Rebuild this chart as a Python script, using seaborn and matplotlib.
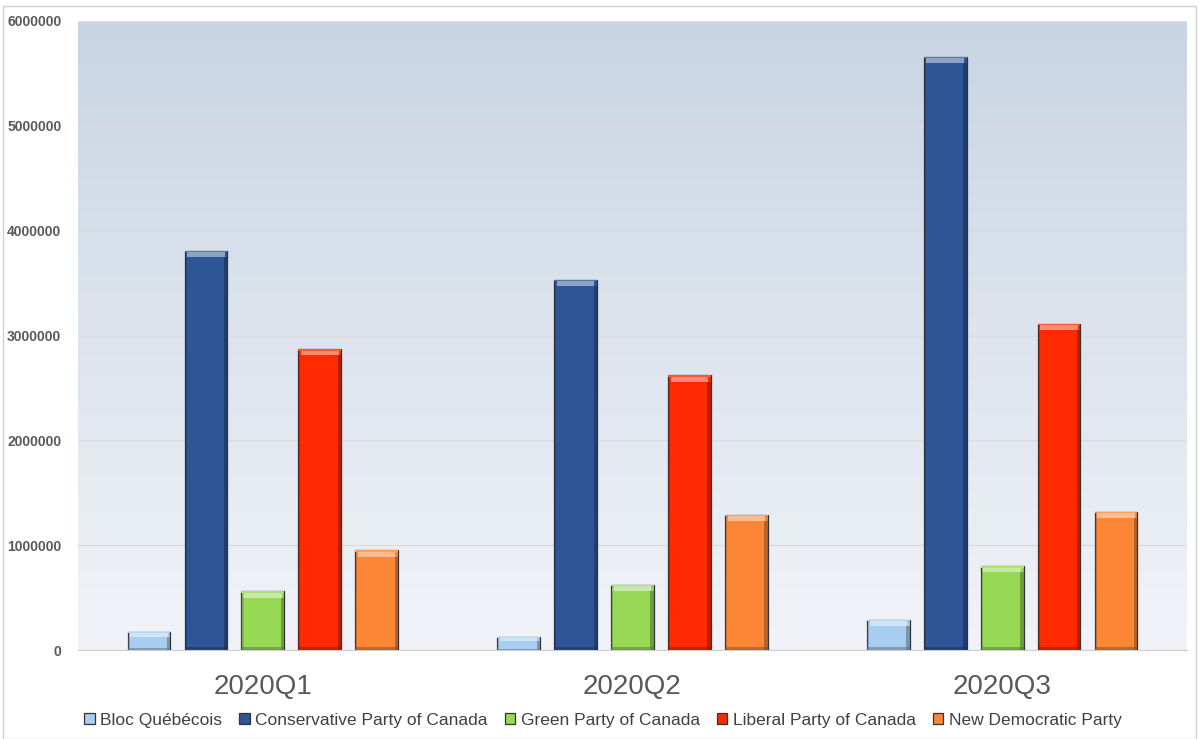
import matplotlib
matplotlib.use("Agg")
import matplotlib.pyplot as plt
from matplotlib.patches import Rectangle
import numpy as np
import pandas as pd
import seaborn as sns

# data
quarters = ["2020Q1", "2020Q2", "2020Q3"]
parties = ["Bloc Québécois", "Conservative Party of Canada", "Green Party of Canada",
           "Liberal Party of Canada", "New Democratic Party"]
bloc = [172000, 120000, 290000]
conservative = [3810000, 3530000, 5660000]
green = [560000, 620000, 800000]
liberal = [2870000, 2620000, 3110000]
ndp = [950000, 1290000, 1320000]
colors = ["#a7cdf0", "#2e5597", "#97d855", "#ff2a00", "#fb8636"]

df = pd.DataFrame({"quarter": quarters * 5,
                   "party": np.repeat(parties, 3),
                   "amount": bloc + conservative + green + liberal + ndp})

sns.set_style("white")
plt.rcParams['font.family'] = ['Liberation Sans', 'DejaVu Sans']

fig = plt.figure(figsize=(11.99, 7.39), dpi=100)
ax = fig.add_axes([78/1199, 1 - 650/739, (1187-78)/1199, (650-21)/739])

# gradient background like the Excel plot area
grad = np.linspace(0, 1, 256).reshape(-1, 1)
top = np.array([0.788, 0.835, 0.890])
bot = np.array([0.945, 0.953, 0.973])
img = top + (bot - top) * grad[:, :, None]
ax.imshow(img, extent=[0, 1, 0, 1], transform=ax.transAxes, aspect="auto", zorder=0)

sns.barplot(data=df, x="quarter", y="amount", hue="party", hue_order=parties,
            palette=colors, saturation=1, width=0.77, gap=0.25, ax=ax, zorder=3,
            edgecolor="#333333", linewidth=0.9, legend=True)

# fake bevel: light strip near the top, darker edges, from the drawn bars
for bar in list(ax.patches):
    x, y = bar.get_x(), bar.get_y()
    w, h = bar.get_width(), bar.get_height()
    if h <= 0:
        continue
    fc = np.array(bar.get_facecolor()[:3])
    light = fc + (1 - fc) * 0.45
    dark = fc * 0.55
    strip = min(70000, h * 0.35)
    ax.add_patch(Rectangle((x + w * 0.06, y + h - strip * 0.85), w * 0.88, strip * 0.65,
                           facecolor=light, edgecolor="none", zorder=4))
    ax.add_patch(Rectangle((x, y + h - strip * 0.2), w, strip * 0.2,
                           facecolor=fc + (1 - fc) * 0.2, edgecolor="none", zorder=4))
    side = w * 0.08
    ax.add_patch(Rectangle((x + w - side, y), side, h - strip * 0.85, facecolor=dark,
                           edgecolor="none", zorder=4, alpha=0.6))
    ax.add_patch(Rectangle((x, y), side * 0.6, h - strip * 0.85, facecolor=dark,
                           edgecolor="none", zorder=4, alpha=0.3))
    ax.add_patch(Rectangle((x, y), w, min(25000, h * 0.1), facecolor=dark,
                           edgecolor="none", zorder=4, alpha=0.5))

ax.set_ylim(0, 6000000)
ax.set_yticks(np.arange(0, 6000001, 1000000))
ax.set_yticklabels([str(v) for v in range(0, 6000001, 1000000)])
ax.yaxis.grid(True, color="#dcdcdc", linewidth=1, zorder=1)
ax.set_axisbelow(True)
ax.set_xlabel("")
ax.set_ylabel("")
for s in ["top", "right", "left"]:
    ax.spines[s].set_visible(False)
ax.spines["bottom"].set_color("#cfcfcf")
ax.spines["bottom"].set_zorder(5)
ax.tick_params(axis="y", length=0, pad=12, labelsize=10, labelcolor="#595959")
for t in ax.get_yticklabels():
    t.set_fontweight("bold")
ax.tick_params(axis="x", length=0, pad=17, labelsize=20, labelcolor="#595959")

handles, labels = ax.get_legend_handles_labels()
ax.get_legend().remove()
fig.legend(handles, labels, loc="center", bbox_to_anchor=(603/1199, 1 - 720/739),
           ncol=5, frameon=False, fontsize=12.5, handlelength=0.6, handleheight=0.6,
           handletextpad=0.3, columnspacing=1.0, labelcolor="#404040")

# chart frame
fig.add_artist(Rectangle((3/1199, 0), 1193/1199, 1 - 6/739, transform=fig.transFigure,
                         fill=False, edgecolor="#d0d0d0", linewidth=1))

fig.savefig("out.png", dpi=100)
